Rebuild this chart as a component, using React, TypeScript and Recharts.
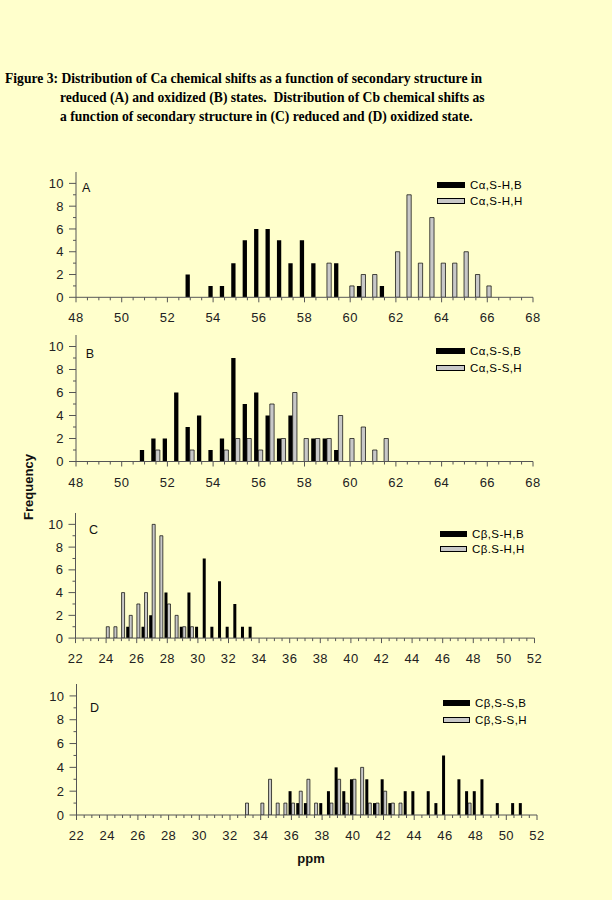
import { BarChart, Bar, XAxis, YAxis } from 'recharts'

// bin centres (ppm) and counts per bin; "sheet" = ...,B series (black), "helix" = ...,H series (grey)
const binsA = [53, 54, 54.5, 55, 55.5, 56, 56.5, 57, 57.5, 58, 58.5, 59, 59.5, 60, 60.5, 61, 61.5, 62, 62.5, 63, 63.5, 64, 64.5, 65, 65.5, 66]
const sheetA = [2, 1, 1, 3, 5, 6, 6, 5, 3, 5, 3, 0, 3, 0, 1, 0, 1, 0, 0, 0, 0, 0, 0, 0, 0, 0]
const helixA = [0, 0, 0, 0, 0, 0, 0, 0, 0, 0, 0, 3, 0, 1, 2, 2, 0, 4, 9, 3, 7, 3, 3, 4, 2, 1]

const binsB = [51, 51.5, 52, 52.5, 53, 53.5, 54, 54.5, 55, 55.5, 56, 56.5, 57, 57.5, 58, 58.5, 59, 59.5, 60, 60.5, 61, 61.5]
const sheetB = [1, 2, 2, 6, 3, 4, 1, 2, 9, 5, 6, 4, 2, 4, 0, 2, 2, 1, 0, 0, 0, 0]
const helixB = [0, 1, 0, 0, 1, 0, 0, 1, 2, 2, 1, 5, 2, 6, 2, 2, 2, 4, 2, 3, 1, 2]

const binsC = [24, 24.5, 25, 25.5, 26, 26.5, 27, 27.5, 28, 28.5, 29, 29.5, 30, 30.5, 31, 31.5, 32, 32.5, 33, 33.5]
const sheetC = [0, 0, 0, 1, 0, 1, 2, 0, 4, 0, 1, 4, 1, 7, 1, 5, 1, 3, 1, 1]
const helixC = [1, 1, 4, 2, 3, 4, 10, 9, 3, 2, 1, 1, 0, 0, 0, 0, 0, 0, 0, 0]

const binsD = [33, 33.5, 34, 34.5, 35, 35.5, 36, 36.5, 37, 37.5, 38, 38.5, 39, 39.5, 40, 40.5, 41, 41.5, 42, 42.5, 43, 43.5, 44, 44.5, 45, 45.5, 46, 46.5, 47, 47.5, 48, 48.5, 49, 49.5, 50, 50.5, 51]
const sheetD = [0, 0, 0, 0, 0, 0, 2, 1, 1, 0, 1, 2, 4, 2, 3, 0, 3, 1, 3, 1, 0, 2, 2, 0, 2, 1, 5, 0, 3, 2, 2, 3, 0, 1, 0, 1, 1]
const helixD = [1, 0, 1, 3, 1, 1, 1, 2, 3, 1, 0, 1, 3, 1, 3, 4, 1, 1, 2, 1, 1, 0, 0, 0, 0, 0, 0, 0, 0, 1, 0, 0, 0, 0, 0, 0, 0]

const caLabels = [48, 50, 52, 54, 56, 58, 60, 62, 64, 66, 68]
const cbLabels = [22, 24, 26, 28, 30, 32, 34, 36, 38, 40, 42, 44, 46, 48, 50, 52]
const yTicks = [0, 1, 2, 3, 4, 5, 6, 7, 8, 9, 10]
const yLabels = [0, 2, 4, 6, 8, 10]

const BG = '#FFFFCC'
const AXIS = '#555'
const TEXT = '#222'
const GRAY = '#c8c8c8'
const SANS = '"Liberation Sans", Arial, sans-serif'

const halfSteps = (lo: number, hi: number) =>
  Array.from({ length: (hi - lo) * 2 + 1 }, (_, i) => lo + i / 2)

function XTick(props: any) {
  const { x, y, payload, labels } = props
  const major = labels.includes(payload.value)
  return (
    <g>
      <line x1={x} x2={x} y1={y} y2={y + (major ? 5 : 3)} stroke={AXIS} />
      {major && (
        <text x={x} y={y + 25} textAnchor="middle" fill={TEXT} fontSize={13} fontFamily={SANS} letterSpacing={0.4}>
          {payload.value}
        </text>
      )}
    </g>
  )
}

function YTick(props: any) {
  const { x, y, payload } = props
  const major = yLabels.includes(payload.value)
  return (
    <g>
      <line x1={x} x2={x - (major ? 7 : 3)} y1={y} y2={y} stroke={AXIS} />
      {major && (
        <text x={x - 12} y={y + 4.6} textAnchor="end" fill={TEXT} fontSize={13} fontFamily={SANS} letterSpacing={0.4}>
          {payload.value}
        </text>
      )}
    </g>
  )
}

interface PanelProps {
  letter: string
  bins: number[]
  sheet: number[]
  helix: number[]
  names: [string, string]
  domain: [number, number]
  labels: number[]
  box: { top: number; bottom: number; left: number; right: number }
  barSize: number
  legend: { x: number; y1: number; y2: number; w: number }
  letterAt: { x: number; y: number }
}

function Panel({ letter, bins, sheet, helix, names, domain, labels, box, barSize, legend, letterAt }: PanelProps) {
  const data = bins.map((x, i) => ({ x, sheet: sheet[i], helix: helix[i] }))
  const mTop = 4
  const xh = 30
  const yw = 60
  const height = mTop + (box.bottom - box.top) + xh + 2

  const legendRow = (y: number, name: string, black: boolean) => (
    <div style={{ position: 'absolute', left: legend.x, top: y - 7, height: 14, display: 'flex', alignItems: 'center' }}>
      <div style={{
        width: legend.w, height: 6, boxSizing: 'border-box',
        background: black ? '#000' : GRAY, border: '1px solid #000',
      }} />
      <span style={{ marginLeft: 5, fontFamily: SANS, fontSize: 11.5, letterSpacing: 0.4, color: '#000', whiteSpace: 'nowrap' }}>
        {name}
      </span>
    </div>
  )

  return (
    <>
      <div style={{ position: 'absolute', left: 0, top: box.top - mTop }}>
        <BarChart width={612} height={height} data={data} barGap={0}
          margin={{ top: mTop, right: 612 - box.right, bottom: 2, left: box.left - yw }}>
          <XAxis type="number" dataKey="x" domain={domain} ticks={halfSteps(domain[0], domain[1])} interval={0}
            allowDataOverflow height={xh} tickSize={0} tickMargin={0} tickLine={false}
            axisLine={{ stroke: AXIS }} tick={(p: any) => <XTick {...p} labels={labels} />} />
          <YAxis type="number" domain={[0, 11]} ticks={yTicks} interval={0} allowDataOverflow width={yw}
            tickSize={0} tickMargin={0} tickLine={false} axisLine={{ stroke: AXIS }}
            tick={(p: any) => <YTick {...p} />} />
          <Bar dataKey="sheet" fill="#000" barSize={barSize} isAnimationActive={false} />
          <Bar dataKey="helix" fill={GRAY} stroke="#000" strokeWidth={0.7} barSize={barSize} isAnimationActive={false} />
        </BarChart>
      </div>
      <div style={{ position: 'absolute', left: letterAt.x, top: letterAt.y - 1.6, fontFamily: SANS, fontSize: 12.5, lineHeight: 1, color: '#111' }}>
        {letter}
      </div>
      {legendRow(legend.y1, names[0], true)}
      {legendRow(legend.y2, names[1], false)}
    </>
  )
}

export default function App() {
  const title = { fontFamily: '"Liberation Serif", "Times New Roman", serif', fontWeight: 700, fontSize: 13.6, lineHeight: '19px', whiteSpace: 'pre' as const }
  return (
    <div style={{ position: 'absolute', left: 0, top: 0, width: 612, height: 900, background: BG, overflow: 'hidden' }}>
      <div style={{ position: 'absolute', left: 5, top: 68.6, ...title }}>
        <div>Figure 3: Distribution of Ca chemical shifts as a function of secondary structure in</div>
        <div style={{ paddingLeft: 55 }}>reduced (A) and oxidized (B) states.  Distribution of Cb chemical shifts as</div>
        <div style={{ paddingLeft: 55 }}>a function of secondary structure in (C) reduced and (D) oxidized state.</div>
      </div>

      <Panel letter="A" bins={binsA} sheet={sheetA} helix={helixA} names={['Cα,S-H,B', 'Cα,S-H,H']}
        domain={[48, 68]} labels={caLabels} barSize={4.3}
        box={{ top: 172, bottom: 297.3, left: 76, right: 533 }}
        legend={{ x: 437, y1: 185.3, y2: 201.3, w: 28 }} letterAt={{ x: 82, y: 184 }} />
      <Panel letter="B" bins={binsB} sheet={sheetB} helix={helixB} names={['Cα,S-S,B', 'Cα,S-S,H']}
        domain={[48, 68]} labels={caLabels} barSize={4.3}
        box={{ top: 335.2, bottom: 461.7, left: 76, right: 533 }}
        legend={{ x: 436, y1: 351.3, y2: 367.8, w: 29 }} letterAt={{ x: 85.7, y: 350 }} />
      <Panel letter="C" bins={binsC} sheet={sheetC} helix={helixC} names={['Cβ,S-H,B', 'Cβ.S-H,H']}
        domain={[22, 52]} labels={cbLabels} barSize={3}
        box={{ top: 512.6, bottom: 637.7, left: 75.5, right: 534.5 }}
        legend={{ x: 440, y1: 533.8, y2: 549, w: 27 }} letterAt={{ x: 89, y: 525.7 }} />
      <Panel letter="D" bins={binsD} sheet={sheetD} helix={helixD} names={['Cβ,S-S,B', 'Cβ,S-S,H']}
        domain={[22, 52]} labels={cbLabels} barSize={3}
        box={{ top: 684, bottom: 815, left: 76.5, right: 537 }}
        legend={{ x: 443, y1: 703.3, y2: 720, w: 27 }} letterAt={{ x: 90, y: 704 }} />

      <div style={{
        position: 'absolute', left: 28.3, top: 486.7, transform: 'translate(-50%, -50%) rotate(-90deg)',
        fontFamily: SANS, fontWeight: 700, fontSize: 13, lineHeight: 1, whiteSpace: 'nowrap', color: '#111',
      }}>Frequency</div>
      <div style={{
        position: 'absolute', left: 311, top: 852, transform: 'translateX(-50%)',
        fontFamily: SANS, fontWeight: 700, fontSize: 13, lineHeight: 1, color: '#111',
      }}>ppm</div>
    </div>
  )
}
